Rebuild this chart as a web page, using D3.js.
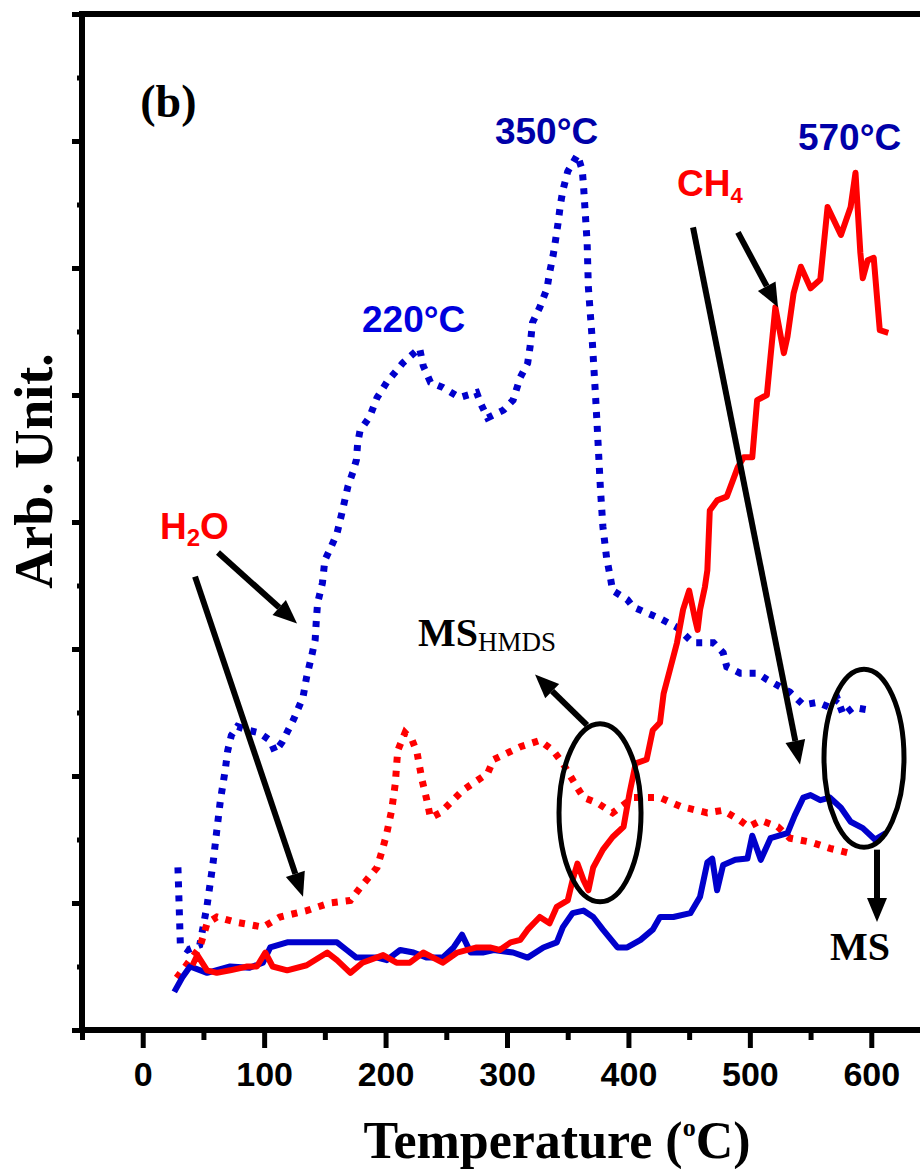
<!DOCTYPE html>
<html lang="en">
<head>
  <meta charset="UTF-8">
  <title>TPD-MS (b)</title>
  <script src="https://d3js.org/d3.v7.min.js"></script>
  <style>
    body { margin: 0; background: white; }
    svg { display: block; }
  </style>
</head>
<body>
  <script>
    const width = 920;
    const height = 1169;

    // temperature (°C), arb. unit
    const h2oHmdsT = [29, 30, 31, 37, 47, 53, 58, 61, 64, 68, 70, 73, 78, 87, 96, 105, 109, 115, 124, 132, 135, 139, 142, 143, 144, 148, 150, 154, 160, 164, 169, 173, 176, 177, 179, 187, 193, 201, 214, 228, 231, 237, 247, 261, 275, 278, 284, 297, 305, 311, 317, 319, 321, 327, 333, 335, 338, 340, 342, 344, 346, 350, 358, 362, 363, 364, 366, 367, 370, 373, 375, 377, 379, 382, 385, 387, 399, 404, 426, 440, 453, 470, 478, 481, 492, 506, 514, 533, 544, 556, 566, 572, 577, 585, 598];
    const h2oHmdsV = [1.28, 0.98, 0.67, 0.63, 0.67, 0.98, 1.32, 1.57, 1.81, 2.05, 2.20, 2.32, 2.39, 2.36, 2.34, 2.28, 2.19, 2.27, 2.44, 2.62, 2.78, 2.94, 3.07, 3.23, 3.36, 3.52, 3.70, 3.78, 3.91, 4.07, 4.28, 4.39, 4.49, 4.62, 4.72, 4.83, 4.98, 5.10, 5.25, 5.37, 5.23, 5.10, 5.06, 4.98, 5.02, 4.94, 4.82, 4.88, 4.96, 5.14, 5.25, 5.38, 5.57, 5.69, 5.84, 5.96, 6.10, 6.22, 6.35, 6.50, 6.61, 6.76, 6.89, 6.77, 6.65, 6.50, 6.20, 5.85, 5.46, 4.98, 4.62, 4.25, 3.96, 3.72, 3.57, 3.46, 3.39, 3.33, 3.24, 3.17, 3.05, 3.05, 2.97, 2.86, 2.81, 2.81, 2.76, 2.66, 2.56, 2.58, 2.54, 2.61, 2.48, 2.54, 2.52];

    const ch4HmdsT = [28, 47, 53, 61, 76, 88, 99, 113, 135, 154, 171, 179, 193, 198, 201, 205, 208, 210, 216, 222, 226, 230, 234, 237, 245, 264, 284, 289, 311, 327, 338, 346, 354, 363, 374, 387, 404, 426, 443, 465, 478, 492, 499, 509, 523, 533, 550, 566, 583];
    const ch4HmdsV = [0.41, 0.65, 0.84, 0.89, 0.85, 0.83, 0.81, 0.89, 0.94, 1.00, 1.02, 1.12, 1.28, 1.44, 1.55, 1.73, 1.94, 2.20, 2.34, 2.28, 2.18, 1.97, 1.81, 1.67, 1.71, 1.89, 2.02, 2.13, 2.23, 2.28, 2.20, 2.10, 1.97, 1.83, 1.79, 1.71, 1.83, 1.83, 1.76, 1.71, 1.73, 1.65, 1.60, 1.65, 1.60, 1.51, 1.48, 1.43, 1.39];

    const h2oMsT = [26, 33, 39, 53, 72, 88, 99, 105, 119, 138, 160, 168, 176, 193, 201, 212, 223, 234, 247, 256, 263, 270, 280, 289, 305, 317, 330, 341, 346, 354, 363, 371, 379, 391, 399, 410, 420, 426, 437, 451, 459, 465, 469, 473, 478, 488, 498, 502, 509, 517, 531, 537, 544, 550, 558, 566, 575, 583, 593, 603, 612];
    const h2oMsV = [0.30, 0.42, 0.50, 0.45, 0.50, 0.49, 0.53, 0.65, 0.69, 0.69, 0.69, 0.63, 0.57, 0.57, 0.55, 0.63, 0.61, 0.57, 0.57, 0.65, 0.75, 0.61, 0.61, 0.63, 0.61, 0.57, 0.65, 0.69, 0.81, 0.92, 0.94, 0.89, 0.79, 0.65, 0.65, 0.71, 0.79, 0.89, 0.89, 0.92, 1.05, 1.32, 1.35, 1.10, 1.30, 1.34, 1.35, 1.53, 1.34, 1.51, 1.55, 1.69, 1.83, 1.85, 1.81, 1.83, 1.75, 1.64, 1.59, 1.50, 1.55];

    const ch4MsT = [41, 45, 53, 61, 72, 86, 94, 101, 107, 119, 135, 152, 160, 171, 181, 198, 209, 220, 231, 247, 259, 275, 286, 294, 303, 311, 317, 327, 335, 341, 350, 354, 358, 363, 367, 371, 379, 387, 396, 401, 406, 415, 420, 426, 429, 434, 440, 445, 450, 455, 457, 459, 463, 465, 467, 473, 481, 490, 495, 502, 506, 514, 517, 521, 528, 531, 536, 542, 550, 558, 564, 575, 583, 587, 591, 593, 597, 602, 607, 614];
    const ch4MsV = [0.51, 0.59, 0.47, 0.45, 0.47, 0.50, 0.50, 0.61, 0.50, 0.47, 0.51, 0.61, 0.55, 0.45, 0.53, 0.59, 0.53, 0.53, 0.61, 0.53, 0.61, 0.65, 0.65, 0.63, 0.69, 0.71, 0.79, 0.89, 0.84, 0.97, 1.02, 1.18, 1.31, 1.18, 1.10, 1.28, 1.42, 1.52, 1.60, 1.87, 2.10, 2.13, 2.36, 2.42, 2.65, 2.83, 3.05, 3.31, 3.46, 3.23, 3.15, 3.31, 3.49, 3.62, 4.09, 4.17, 4.20, 4.43, 4.51, 4.51, 4.96, 5.00, 5.30, 5.69, 5.33, 5.46, 5.80, 6.01, 5.84, 5.91, 6.48, 6.26, 6.48, 6.75, 6.12, 5.92, 6.06, 6.08, 5.51, 5.49];

    const xMajor = [0, 100, 200, 300, 400, 500, 600];
    const xMinor = [-50, 50, 150, 250, 350, 450, 550, 650];
    const yMajor = [0, 1, 2, 3, 4, 5, 6, 7, 8];
    const yMinor = [0.5, 1.5, 2.5, 3.5, 4.5, 5.5, 6.5, 7.5];

    const BLUE = "#0000cc";
    const RED = "#ff0000";
    const sans = "'Liberation Sans', Arial, sans-serif";
    const serif = "'Liberation Serif', 'Times New Roman', serif";

    const x = d3.scaleLinear().domain([-50, 650]).range([82, 932]);
    const y = d3.scaleLinear().domain([0, 8]).range([1030, 14]);

    const svg = d3.select("body").append("svg")
      .attr("width", width)
      .attr("height", height)
      .style("background", "white");

    const zip = (ts, vs) => ts.map((t, i) => [t, vs[i]]);
    const line = d3.line().x(d => x(d[0])).y(d => y(d[1]));

    // series
    svg.append("path").datum(zip(h2oHmdsT, h2oHmdsV))
      .attr("d", line).attr("fill", "none")
      .attr("stroke", BLUE).attr("stroke-width", 7)
      .attr("stroke-dasharray", "6,8");
    svg.append("path").datum(zip(ch4HmdsT, ch4HmdsV))
      .attr("d", line).attr("fill", "none")
      .attr("stroke", RED).attr("stroke-width", 7)
      .attr("stroke-dasharray", "6,8");
    svg.append("path").datum(zip(h2oMsT, h2oMsV))
      .attr("d", line).attr("fill", "none")
      .attr("stroke", BLUE).attr("stroke-width", 6)
      .attr("stroke-linejoin", "round");
    svg.append("path").datum(zip(ch4MsT, ch4MsV))
      .attr("d", line).attr("fill", "none")
      .attr("stroke", RED).attr("stroke-width", 6)
      .attr("stroke-linejoin", "round");

    // axes
    const xAxisMajor = d3.axisBottom(x).tickValues(xMajor).tickSize(18).tickPadding(14);
    const xAxisMinor = d3.axisBottom(x).tickValues(xMinor).tickSize(10).tickFormat("");
    const yAxisMajor = d3.axisLeft(y).tickValues(yMajor).tickSize(10).tickFormat("");
    const yAxisMinor = d3.axisLeft(y).tickValues(yMinor).tickSize(5).tickFormat("");

    const gx = svg.append("g").attr("transform", `translate(0,${y(0)})`).call(xAxisMajor);
    svg.append("g").attr("transform", `translate(0,${y(0)})`).call(xAxisMinor);
    svg.append("g").attr("transform", `translate(${x(-50)},0)`).call(yAxisMajor);
    svg.append("g").attr("transform", `translate(${x(-50)},0)`).call(yAxisMinor);
    svg.selectAll(".domain").remove();
    svg.selectAll(".tick line").attr("stroke", "#000").attr("stroke-width", 5);
    gx.selectAll(".tick text")
      .attr("font-family", sans).attr("font-weight", "bold")
      .attr("font-size", 34).attr("fill", "#000");

    svg.append("rect")
      .attr("x", x(-50)).attr("y", y(8))
      .attr("width", x(650) - x(-50)).attr("height", y(0) - y(8))
      .attr("fill", "none").attr("stroke", "#000").attr("stroke-width", 6);

    // axis titles
    svg.append("text")
      .attr("transform", `translate(52,471) rotate(-90)`)
      .attr("text-anchor", "middle")
      .attr("font-family", serif).attr("font-weight", "bold").attr("font-size", 54)
      .text("Arb. Unit.");

    const xt = svg.append("text")
      .attr("x", 557).attr("y", 1158)
      .attr("text-anchor", "middle")
      .attr("font-family", serif).attr("font-weight", "bold").attr("font-size", 52);
    xt.append("tspan").text("Temperature (");
    xt.append("tspan").attr("font-size", 26).attr("dy", -22).text("o");
    xt.append("tspan").attr("dy", 22).text("C)");

    // annotations
    svg.append("text")
      .attr("x", x(-2)).attr("y", y(7.19))
      .attr("font-family", serif).attr("font-weight", "bold").attr("font-size", 46)
      .text("(b)");

    const peakLabel = (t, v, s, c) => svg.append("text")
      .attr("x", x(t)).attr("y", y(v))
      .attr("font-family", sans).attr("font-weight", "bold").attr("font-size", 37)
      .attr("fill", c).text(s);
    peakLabel(180.6, 5.50, "220°C", "#0000dd");
    peakLabel(290.1, 6.98, "350°C", "#0000a8");
    peakLabel(539.6, 6.93, "570°C", "#0000a8");

    const ch4 = svg.append("text")
      .attr("x", x(440)).attr("y", y(6.57))
      .attr("font-family", sans).attr("font-weight", "bold").attr("font-size", 37)
      .attr("fill", RED);
    ch4.append("tspan").text("CH");
    ch4.append("tspan").attr("font-size", 22).attr("dy", 7).text("4");

    const h2o = svg.append("text")
      .attr("x", x(14.2)).attr("y", y(3.87))
      .attr("font-family", sans).attr("font-weight", "bold").attr("font-size", 37)
      .attr("fill", RED);
    h2o.append("tspan").text("H");
    h2o.append("tspan").attr("font-size", 24).attr("dy", 7).text("2");
    h2o.append("tspan").attr("dy", -7).text("O");

    const msh = svg.append("text")
      .attr("x", x(226.7)).attr("y", y(3.02))
      .attr("font-family", serif).attr("font-size", 40);
    msh.append("tspan").attr("font-weight", "bold").text("MS");
    msh.append("tspan").attr("font-size", 27).attr("dy", 5).text("HMDS");

    svg.append("text")
      .attr("x", x(566)).attr("y", y(0.55))
      .attr("font-family", serif).attr("font-weight", "bold").attr("font-size", 40)
      .text("MS");

    function arrow(t1, v1, t2, v2) {
      const x1 = x(t1), y1 = y(v1), x2 = x(t2), y2 = y(v2);
      const a = Math.atan2(y2 - y1, x2 - x1);
      const len = 24, half = 10;
      const bx = x2 - len * Math.cos(a), by = y2 - len * Math.sin(a);
      svg.append("line")
        .attr("x1", x1).attr("y1", y1).attr("x2", bx).attr("y2", by)
        .attr("stroke", "#000").attr("stroke-width", 6);
      svg.append("polygon")
        .attr("points", [
          [x2, y2],
          [bx + half * Math.sin(a), by - half * Math.cos(a)],
          [bx - half * Math.sin(a), by + half * Math.cos(a)]
        ].map(p => p.join(",")).join(" "))
        .attr("fill", "#000");
    }
    arrow(62.0, 3.76, 127.1, 3.20);
    arrow(43.1, 3.57, 132.0, 1.05);
    arrow(365.9, 2.40, 323.1, 2.80);
    arrow(490.2, 6.28, 523.2, 5.69);
    arrow(453.2, 6.32, 541.3, 2.09);
    arrow(604.7, 1.42, 604.7, 0.85);

    svg.append("ellipse")
      .attr("cx", x(376.6)).attr("cy", y(1.71)).attr("rx", 41).attr("ry", 89)
      .attr("fill", "none").attr("stroke", "#000").attr("stroke-width", 5);
    svg.append("ellipse")
      .attr("cx", x(594)).attr("cy", y(2.14)).attr("rx", 40).attr("ry", 89)
      .attr("fill", "none").attr("stroke", "#000").attr("stroke-width", 5);
  </script>
</body>
</html>
